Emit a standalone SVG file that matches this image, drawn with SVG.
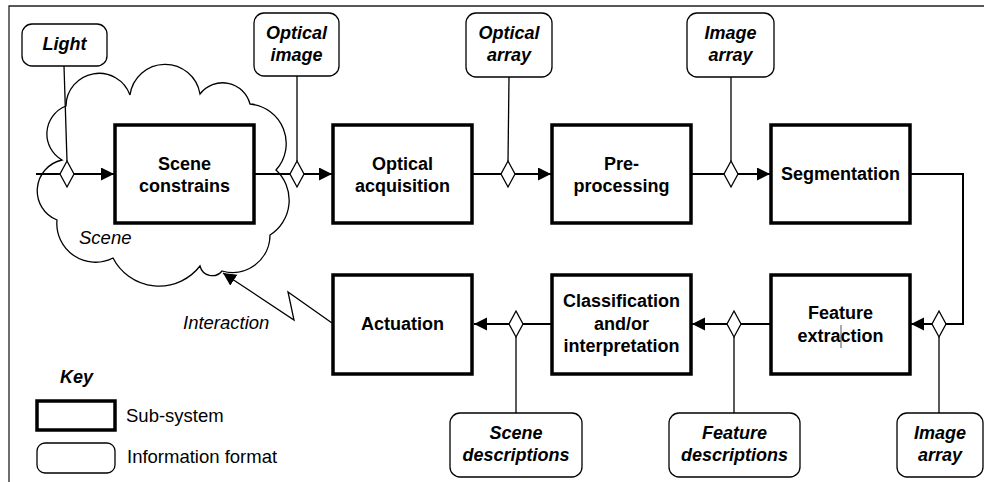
<svg xmlns="http://www.w3.org/2000/svg" width="984" height="482" viewBox="0 0 984 482">
  <defs>
    <style>
      .sub { fill: #fff; stroke: #000; stroke-width: 3.5; }
      .info { fill: #fff; stroke: #000; stroke-width: 1.3; }
      .flow { fill: none; stroke: #000; stroke-width: 2; }
      .tap { fill: none; stroke: #000; stroke-width: 1.3; }
      .dia { fill: #fff; stroke: #000; stroke-width: 1.3; }
      .cloud { fill: #fff; stroke: #000; stroke-width: 1.3; }
      text { font-family: "Liberation Sans", Arial, sans-serif; font-size: 18px; fill: #000; }
      .bl { font-weight: bold; text-anchor: middle; }
      .bi { font-weight: bold; font-style: italic; text-anchor: middle; }
      .it { font-style: italic; font-size: 18.5px; }
      .rg { font-size: 18.5px; }
    </style>
    <marker id="arrow" markerUnits="userSpaceOnUse" markerWidth="14" markerHeight="14" refX="13" refY="6.5" orient="auto">
      <path d="M0,0 L13,6.5 L0,13 Z" fill="#000"/>
    </marker>
  </defs>

  <!-- frame -->
  <path d="M984,6 H9 V482" fill="none" stroke="#222" stroke-width="1.3"/>

  <!-- scene cloud -->
  <g id="scene">
    <path class="cloud" d="M66,106 A33,33 0 0 1 130,95 A35.4,35.4 0 0 1 200,94 A28.3,28.3 0 0 1 250,104 A39.6,39.6 0 0 1 276,170 A41.2,41.2 0 0 1 270,235 A37.5,37.5 0 0 1 222,271 A12.6,12.6 0 0 1 200,266 A51.8,51.8 0 0 1 113,258 A38.6,38.6 0 0 1 57,220 A31.5,31.5 0 0 1 62,160 A30,30 0 0 1 66,106 Z"/>
    <text class="it" x="79" y="244">Scene</text>
  </g>

  <!-- connectors -->
  <g id="connectors">
    <line class="flow" x1="36" y1="174" x2="114" y2="174" marker-end="url(#arrow)"/>
    <line class="flow" x1="254" y1="174" x2="332" y2="174" marker-end="url(#arrow)"/>
    <line class="flow" x1="472" y1="174" x2="551" y2="174" marker-end="url(#arrow)"/>
    <line class="flow" x1="691" y1="174" x2="770" y2="174" marker-end="url(#arrow)"/>
    <polyline class="flow" points="910,174 963,174 963,324 911,324" marker-end="url(#arrow)"/>
    <line class="flow" x1="771" y1="324" x2="692" y2="324" marker-end="url(#arrow)"/>
    <line class="flow" x1="552" y1="324" x2="474" y2="324" marker-end="url(#arrow)"/>
    <polyline class="tap" points="332,323 288,292 294,320 223,273" marker-end="url(#arrow)"/>

    <line class="tap" x1="64" y1="66" x2="67" y2="161"/>
    <line class="tap" x1="297" y1="76" x2="297" y2="161"/>
    <line class="tap" x1="509" y1="77" x2="508" y2="161"/>
    <line class="tap" x1="731" y1="77" x2="731" y2="161"/>
    <line class="tap" x1="516" y1="337" x2="516" y2="413"/>
    <line class="tap" x1="734" y1="337" x2="734" y2="413"/>
    <line class="tap" x1="939" y1="337" x2="939" y2="413"/>

    <path class="dia" d="M67,161 L74,174 L67,187 L60,174 Z"/>
    <path class="dia" d="M297,161 L304,174 L297,187 L290,174 Z"/>
    <path class="dia" d="M508,161 L515,174 L508,187 L501,174 Z"/>
    <path class="dia" d="M731,161 L738,174 L731,187 L724,174 Z"/>
    <path class="dia" d="M939,311 L946,324 L939,337 L932,324 Z"/>
    <path class="dia" d="M734,311 L741,324 L734,337 L727,324 Z"/>
    <path class="dia" d="M516,311 L523,324 L516,337 L509,324 Z"/>

    <text class="it" x="183" y="329">Interaction</text>
  </g>

  <!-- sub-systems -->
  <g id="scene-constrains">
    <rect class="sub" x="115" y="125" width="139" height="98"/>
    <text class="bl" x="184.5" y="170">Scene</text>
    <text class="bl" x="184.5" y="192">constrains</text>
  </g>
  <g id="optical-acquisition">
    <rect class="sub" x="333" y="125" width="139" height="98"/>
    <text class="bl" x="402.5" y="170">Optical</text>
    <text class="bl" x="402.5" y="192">acquisition</text>
  </g>
  <g id="pre-processing">
    <rect class="sub" x="552" y="125" width="139" height="98"/>
    <text class="bl" x="621.5" y="170">Pre-</text>
    <text class="bl" x="621.5" y="192">processing</text>
  </g>
  <g id="segmentation">
    <rect class="sub" x="771" y="125" width="139" height="98"/>
    <text class="bl" x="840.5" y="180">Segmentation</text>
  </g>
  <g id="feature-extraction">
    <rect class="sub" x="771" y="275" width="139" height="99"/>
    <text class="bl" x="840.5" y="319">Feature</text>
    <text class="bl" x="840.5" y="342">extraction</text>
    <line x1="841" y1="325" x2="841" y2="348" stroke="#555" stroke-width="1"/>
  </g>
  <g id="classification">
    <rect class="sub" x="552" y="275" width="139" height="99"/>
    <text class="bl" x="621.5" y="307">Classification</text>
    <text class="bl" x="621.5" y="330">and/or</text>
    <text class="bl" x="621.5" y="352">interpretation</text>
  </g>
  <g id="actuation">
    <rect class="sub" x="333" y="275" width="139" height="99"/>
    <text class="bl" x="402.5" y="330">Actuation</text>
  </g>

  <!-- information formats -->
  <g id="light">
    <rect class="info" x="22" y="24" width="85" height="42" rx="10"/>
    <text class="bi" x="64.5" y="50">Light</text>
  </g>
  <g id="optical-image">
    <rect class="info" x="254" y="13" width="85" height="63" rx="10"/>
    <text class="bi" x="296.5" y="39">Optical</text>
    <text class="bi" x="296.5" y="61">image</text>
  </g>
  <g id="optical-array">
    <rect class="info" x="466" y="13" width="86" height="64" rx="10"/>
    <text class="bi" x="509" y="39">Optical</text>
    <text class="bi" x="509" y="61">array</text>
  </g>
  <g id="image-array-top">
    <rect class="info" x="687" y="13" width="87" height="64" rx="10"/>
    <text class="bi" x="730.5" y="39">Image</text>
    <text class="bi" x="730.5" y="61">array</text>
  </g>
  <g id="scene-descriptions">
    <rect class="info" x="450" y="413" width="132" height="64" rx="10"/>
    <text class="bi" x="516" y="439">Scene</text>
    <text class="bi" x="516" y="461">descriptions</text>
  </g>
  <g id="feature-descriptions">
    <rect class="info" x="669" y="413" width="131" height="64" rx="10"/>
    <text class="bi" x="734.5" y="439">Feature</text>
    <text class="bi" x="734.5" y="461">descriptions</text>
  </g>
  <g id="image-array-bottom">
    <rect class="info" x="897" y="413" width="86" height="64" rx="10"/>
    <text class="bi" x="940" y="439">Image</text>
    <text class="bi" x="940" y="461">array</text>
  </g>

  <!-- key -->
  <g id="key">
    <text x="60" y="383" font-weight="bold" font-style="italic">Key</text>
    <rect class="sub" x="37" y="401" width="78" height="29"/>
    <text class="rg" x="126" y="422">Sub-system</text>
    <rect class="info" x="37" y="443" width="78" height="30" rx="8"/>
    <text class="rg" x="127" y="463">Information format</text>
  </g>
</svg>
